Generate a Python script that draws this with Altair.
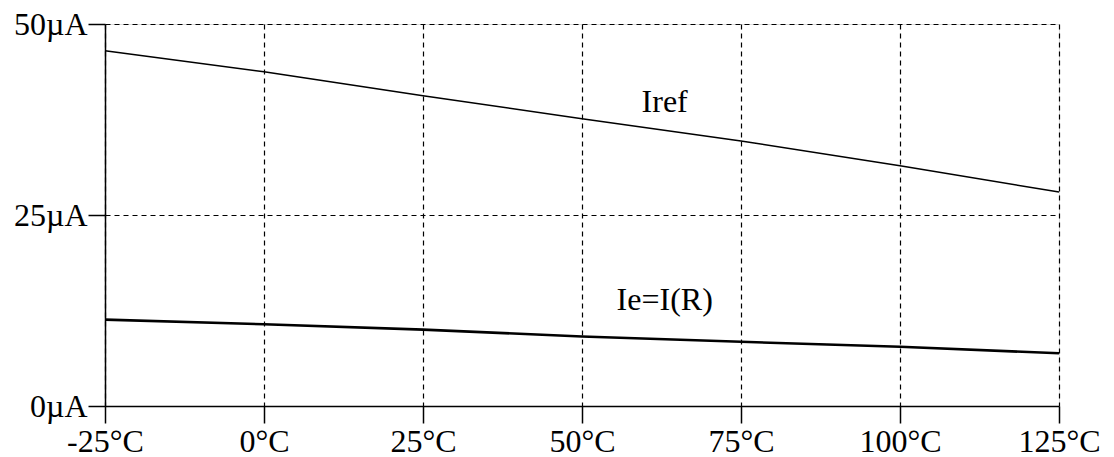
import altair as alt
import pandas as pd

temps = [-25, 0, 25, 50, 75, 100, 125]
iref = [46.5, 43.75, 40.6, 37.6, 34.7, 31.45, 28.0]
ie = [11.3, 10.7, 10.0, 9.1, 8.4, 7.75, 6.9]

label_text = ["Iref", "Ie=I(R)"]
label_x = [63, 63]
label_y = [39.8, 13.9]

FONT = "Times New Roman"

df = pd.DataFrame({"T": temps, "Iref": iref, "Ie": ie})
lab = pd.DataFrame({"T": label_x, "I": label_y, "txt": label_text})

xscale = alt.Scale(domain=[-25, 125], nice=False, zero=False)
yscale = alt.Scale(domain=[0, 50], nice=False)

xaxis = alt.Axis(values=[-25, 0, 25, 50, 75, 100, 125], labelExpr="datum.value + '°C'",
                 title=None, grid=True, gridDash=[5, 4], gridColor="black", gridWidth=1.2, gridOpacity=1,
                 domainColor="black", domainWidth=1.5, tickColor="black", tickWidth=1.5, tickSize=17,
                 labelFont=FONT, labelFontSize=32, labelColor="black", labelPadding=3, labelFlush=False)
yaxis = alt.Axis(values=[0, 25, 50], labelExpr="datum.value + 'µA'",
                 title=None, grid=True, gridDash=[5, 4], gridColor="black", gridWidth=1.2, gridOpacity=1,
                 domainColor="black", domainWidth=1.5, tickColor="black", tickWidth=1.5, tickSize=17,
                 labelFont=FONT, labelFontSize=32, labelColor="black", labelPadding=1, labelFlush=False)

base = alt.Chart(df)
l1 = base.mark_line(color="black", strokeWidth=1.5).encode(
    x=alt.X("T:Q", scale=xscale, axis=xaxis),
    y=alt.Y("Iref:Q", scale=yscale, axis=yaxis),
)
l2 = base.mark_line(color="black", strokeWidth=2.6).encode(
    x=alt.X("T:Q", scale=xscale),
    y=alt.Y("Ie:Q", scale=yscale),
)
txt = alt.Chart(lab).mark_text(font=FONT, fontSize=32, color="black", align="center", baseline="middle").encode(
    x=alt.X("T:Q", scale=xscale),
    y=alt.Y("I:Q", scale=yscale),
    text="txt:N",
)

chart = alt.layer(l1, l2, txt).properties(
    width=954, height=382,
    autosize=alt.AutoSizeParams(type="none"),
    padding={"left": 105, "top": 24, "right": 55, "bottom": 51},
).configure_view(stroke="black", strokeWidth=1.5).configure(background="white")

chart.save("out.html", embed_options={"renderer": "svg", "actions": False})
